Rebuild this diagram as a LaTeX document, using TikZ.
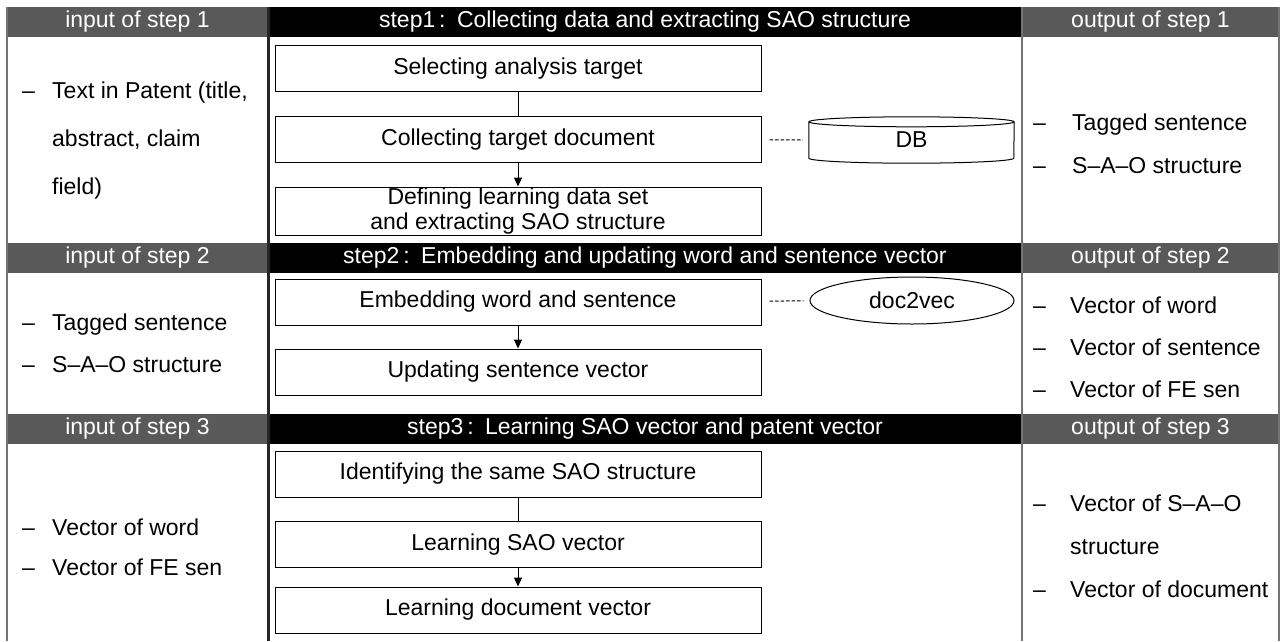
\documentclass[tikz,border=0pt]{standalone}
\usepackage{fontspec}
\setmainfont{Liberation Sans}
\usepackage{tikz}
\usetikzlibrary{arrows.meta}
\usetikzlibrary{shapes.geometric}
\colorlet{hgray}{black!65}
\colorlet{rulegray}{black!55}
\newcommand\txt{\fontsize{23}{27}\selectfont}
\newcommand\itm[1][30pt]{\makebox[#1][l]{–}}
\newcommand\itmc[1][30pt]{\makebox[#1]{}}
\tikzstyle{hdr}=[fill=hgray,text=white,minimum height=30pt,inner sep=0pt,font=\txt]
\tikzstyle{shdr}=[hdr,fill=black]
\tikzstyle{stepbox}=[draw,line width=1pt,minimum width=486pt,minimum height=46pt,inner sep=0pt,font=\txt,align=center]
\tikzstyle{lst}=[anchor=west,align=left,inner sep=0pt]
\tikzstyle{flow}=[line width=1pt,-{Triangle[length=9pt,width=8pt]}]
\tikzstyle{link}=[line width=1pt,dash pattern=on 3.5pt off 2pt,shorten <=8pt,shorten >=6pt]
\begin{document}
\begin{tikzpicture}[x=1pt,y=-1pt]
  \useasboundingbox (0,0) rectangle (1283,641);
  % headers
  \node[hdr,minimum width=261pt]  (h1in)  at (137.5,22) {input of step 1};
  \node[shdr,minimum width=754pt] (h1)    at (645,22)   {step1\,:\enspace Collecting data and extracting SAO structure};
  \node[hdr,minimum width=257pt]  (h1out) at (1150.5,22) {output of step 1};
  \node[hdr,minimum width=261pt]  (h2in)  at (137.5,257.5) {input of step 2};
  \node[shdr,minimum width=754pt] (h2)    at (645,257.5)   {step2\,:\enspace Embedding and updating word and sentence vector};
  \node[hdr,minimum width=257pt]  (h2out) at (1150.5,257.5) {output of step 2};
  \node[hdr,minimum width=261pt]  (h3in)  at (137.5,428.5) {input of step 3};
  \node[shdr,minimum width=754pt] (h3)    at (645,428.5)   {step3\,:\enspace Learning SAO vector and patent vector};
  \node[hdr,minimum width=257pt]  (h3out) at (1150.5,428.5) {output of step 3};
  % frame
  \draw[rulegray,line width=1.5pt] (7,7) -- (7,641);
  \draw[black!85,line width=3pt] (268,7) -- (268,641);
  \draw[rulegray,line width=2pt] (1022,7) -- (1022,641);
  \draw[rulegray,line width=1.5pt] (1279,7) -- (1279,641);
  % step 1
  \node[stepbox] (s1a) at (518,68.5)  {Selecting analysis target};
  \node[stepbox] (s1b) at (518,139.5) {Collecting target document};
  \node[stepbox,minimum height=48pt,font=\fontsize{23}{25}\selectfont] (s1c) at (518,211) {Defining learning data set\\and extracting SAO structure};
  \node[minimum width=205pt,minimum height=46pt,inner sep=0pt,font=\txt] (db) at (911.5,140) {\raisebox{-3pt}{DB}};
  \draw[line width=1pt] ([yshift=-5pt]db.north) ellipse [x radius=102.5pt,y radius=5pt];
  \draw[line width=1pt] ([yshift=-5pt]db.north west) -- ([yshift=5pt]db.south west)
    arc [start angle=180,end angle=360,x radius=102.5pt,y radius=5pt] -- ([yshift=-5pt]db.north east);
  \draw[line width=1pt] (s1a) -- (s1b);
  \draw[flow] (s1b) -- (s1c);
  \draw[link] (s1b) -- (db);
  % step 2
  \node[stepbox] (s2a) at (518,302) {Embedding word and sentence};
  \node[stepbox] (s2b) at (518,372) {Updating sentence vector};
  \node[draw,ellipse,line width=1pt,minimum width=204pt,minimum height=47pt,inner sep=0pt,font=\txt] (d2v) at (912,300.5) {doc2vec};
  \draw[flow] (s2a) -- (s2b);
  \draw[link] (s2a) -- (d2v);
  % step 3
  \node[stepbox] (s3a) at (518,474)   {Identifying the same SAO structure};
  \node[stepbox] (s3b) at (518,544.5) {Learning SAO vector};
  \node[stepbox] (s3c) at (518,610)   {Learning document vector};
  \draw[line width=1pt] (s3a) -- (s3b);
  \draw[flow] (s3b) -- (s3c);
  % inputs and outputs
  \node[lst,font=\fontsize{23}{48}\selectfont] (in1) at (22,141)
    {\itm Text in Patent (title,\\\itmc abstract, claim\\\itmc field)};
  \node[lst,font=\fontsize{23}{43}\selectfont] (out1) at (1033,144)
    {\itm[39pt]Tagged sentence\\\itm[39pt]S–A–O structure};
  \node[lst,font=\fontsize{23}{42}\selectfont] (in2) at (22,343)
    {\itm Tagged sentence\\\itm S–A–O structure};
  \node[lst,font=\fontsize{23}{42}\selectfont] (out2) at (1033,347)
    {\itm[37pt]Vector of word\\\itm[37pt]Vector of sentence\\\itm[37pt]Vector of FE sen};
  \node[lst,font=\fontsize{23}{40}\selectfont] (in3) at (22,547)
    {\itm Vector of word\\\itm Vector of FE sen};
  \node[lst,font=\fontsize{23}{43}\selectfont] (out3) at (1033,546)
    {\itm[37pt]Vector of S–A–O\\\itmc[37pt]structure\\\itm[37pt]Vector of document};
\end{tikzpicture}
\end{document}
